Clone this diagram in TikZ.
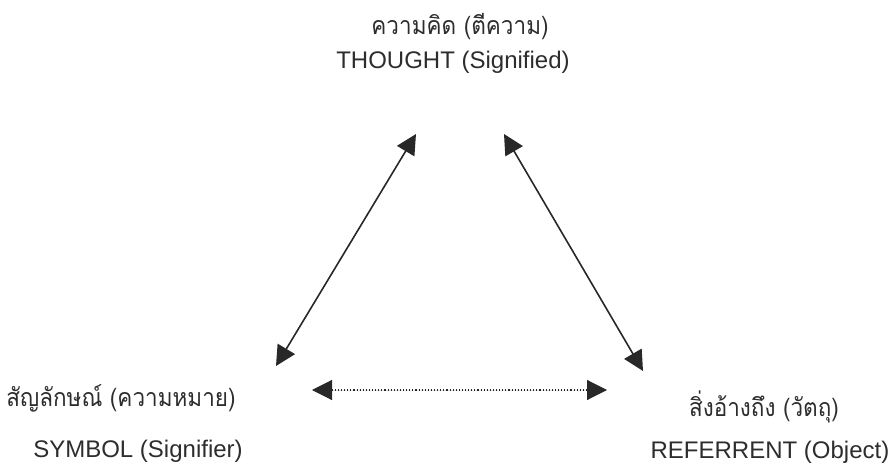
\documentclass[tikz,border=0pt]{standalone}
\usepackage{fontspec}
\setmainfont{Liberation Sans}
\newfontfamily\thaifont[Script=Thai, FakeStretch=0.9]{Loma}
\usepackage{xcolor}
\usepackage{tikz}
\usetikzlibrary{arrows.meta,positioning,calc}
\definecolor{txtgray}{RGB}{45,45,45}
\definecolor{arrgray}{RGB}{40,40,40}

\begin{document}
\begin{tikzpicture}[x=1pt, y=1pt,
    thai/.style={font=\thaifont\fontsize{25}{30}\selectfont, text=txtgray, inner sep=0pt, anchor=base},
    eng/.style={font=\fontsize{24}{28}\selectfont, text=txtgray, inner sep=0pt, anchor=base},
    link/.style={{Triangle[length=20pt,width=20pt]}-{Triangle[length=20pt,width=20pt]}, draw=arrgray, fill=arrgray, line width=1.6pt},
    weak/.style={{Triangle[length=20pt,width=20pt]}-{Triangle[length=20pt,width=20pt]}, draw=arrgray, fill=arrgray, line width=1.1pt, dotted}]
  \useasboundingbox (0,0) rectangle (889,472);
  % labels at the three corners
  \node[thai] (thoughtTh) at (460,437) {ความคิด (ตีความ)};
  \node[eng] (thoughtEn) at (453,403) {THOUGHT (Signified)};
  \node[thai] (symbolTh) at (121,66) {สัญลักษณ์ (ความหมาย)};
  \node[eng] (symbolEn) at (138,15) {SYMBOL (Signifier)};
  \node[thai] (referentTh) at (764,56) {สิ่งอ้างถึง (วัตถุ)};
  \node[eng] (referentEn) at (770,14) {REFERRENT (Object)};
  % arrow ends
  \coordinate (tLeft) at (416,338);
  \coordinate (tRight) at (504,338);
  \coordinate (sTip) at (276,106);
  \coordinate (rTip) at (643,101);
  \coordinate (hLeft) at (312,82);
  \coordinate (hRight) at (607,82);
  \draw[link] (sTip) -- (tLeft);
  \draw[link] (tRight) -- (rTip);
  \draw[weak] (hLeft) -- (hRight);
\end{tikzpicture}
\end{document}
